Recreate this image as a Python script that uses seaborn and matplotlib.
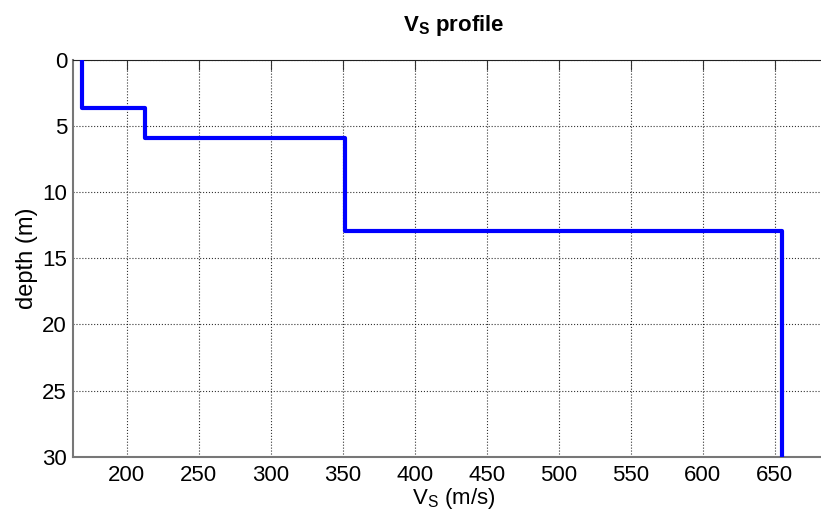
import numpy as np
import pandas as pd
import matplotlib
matplotlib.use("Agg")
import matplotlib.pyplot as plt
import seaborn as sns

# layer data read from the profile
vs_layers = [169, 213, 352, 655]          # m/s
top_depth = [0.0, 3.6, 5.9, 12.9]         # m
bottom_depth = [3.6, 5.9, 12.9, 30.0]     # m

x_ticks = [200, 250, 300, 350, 400, 450, 500, 550, 600, 650]
y_ticks = [0, 5, 10, 15, 20, 25, 30]

# step profile points
vs_pts, d_pts = [], []
for v, t, b in zip(vs_layers, top_depth, bottom_depth):
    vs_pts += [v, v]
    d_pts += [t, b]
profile = pd.DataFrame({"vs": vs_pts, "depth": d_pts})

sns.set_style("white")
plt.rcParams['font.family'] = ['Liberation Sans', 'DejaVu Sans']
plt.rcParams['text.color'] = 'black'
plt.rcParams['axes.labelcolor'] = 'black'
plt.rcParams['xtick.color'] = 'black'
plt.rcParams['ytick.color'] = 'black'

fig = plt.figure(figsize=(8.21, 5.21), dpi=100)
ax = fig.add_axes([73.3 / 821, 1 - 456.7 / 521, 760 / 821, (456.7 - 60) / 521])

sns.lineplot(data=profile, x="vs", y="depth", sort=False, estimator=None,
             color=(0, 0, 1), linewidth=3, ax=ax, zorder=3)

ax.set_xlim(163, 163 + 760 / 1.44)
ax.set_ylim(30, 0)
ax.set_xticks(x_ticks)
ax.set_yticks(y_ticks)
ax.grid(True, color="black", linestyle=":", linewidth=0.8, alpha=0.8)
ax.tick_params(direction="in", length=7, labelsize=16, top=True, right=False,
               color="#333333")
ax.tick_params(axis="y", pad=4.5)
ax.tick_params(axis="x", pad=6)

for s in ["left", "bottom"]:
    ax.spines[s].set_color("#777777")
    ax.spines[s].set_linewidth(1.5)
ax.spines["top"].set_color("#222222")
ax.spines["right"].set_visible(False)

ax.set_xlabel("V$_\\mathregular{S}$ (m/s)", fontsize=16, labelpad=0)
ax.set_ylabel("depth (m)", fontsize=17, labelpad=3)
ax.set_title("V$_\\mathregular{S}$ profile", fontsize=16, fontweight="bold", pad=21)

fig.savefig("out.png", dpi=100)
